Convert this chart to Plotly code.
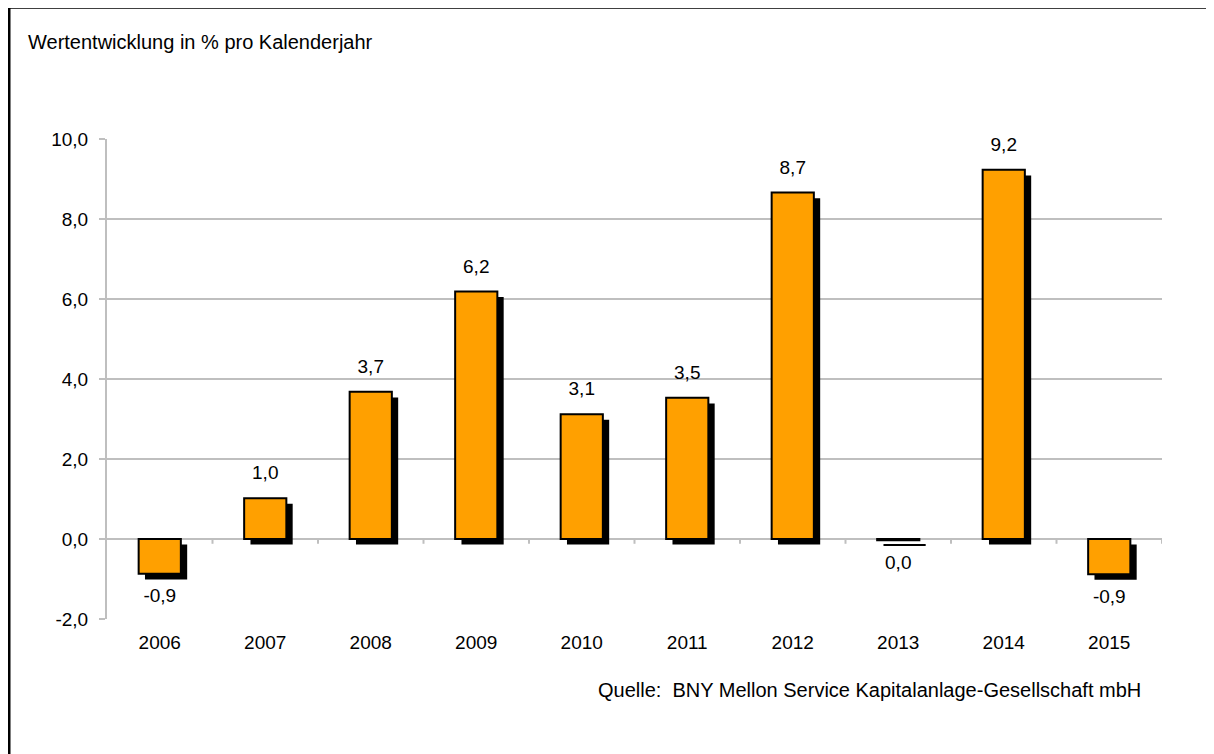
import plotly.graph_objects as go

years = [2006, 2007, 2008, 2009, 2010, 2011, 2012, 2013, 2014, 2015]
values = [-0.87, 1.02, 3.68, 6.19, 3.12, 3.53, 8.66, -0.03, 9.23, -0.88]
year_labels = [str(y) for y in years]
y_ticks = [-2, 0, 2, 4, 6, 8, 10]
y_tick_labels = ["-2,0", "0,0", "2,0", "4,0", "6,0", "8,0", "10,0"]

OFF = 8  # page body margin
W, H = 1214 - OFF, 754 - OFF
L, R, T, B = 107 - OFF, 52, 139 - OFF, 135
pw, ph = W - L - R, H - T - B
ymin, ymax = -2, 10
shadow_shift = 0.14  # data units, vertical shadow offset
bar_w = 0.4
font = "Arial, Liberation Sans, sans-serif"

fig = go.Figure()

# shadow bars
fig.add_trace(go.Bar(
    x=years, y=values, xaxis="x", yaxis="y2",
    width=bar_w, offset=-bar_w / 2 + 0.06,
    marker=dict(color="black", line=dict(width=0)),
    hoverinfo="skip", showlegend=False,
))
# main bars
fig.add_trace(go.Bar(
    x=years, y=values, xaxis="x", yaxis="y3",
    width=bar_w,
    marker=dict(color="#FFA000", line=dict(color="black", width=2)),
    hoverinfo="skip", showlegend=False,
))
# value labels
fig.add_trace(go.Scatter(
    x=years, y=values, xaxis="x", yaxis="y3",
    mode="markers+text",
    marker=dict(size=21, opacity=0),
    texttemplate="%{y:.1f}",
    textposition=["top center" if v >= 0 else "bottom center" for v in values],
    textfont=dict(family=font, size=19, color="black"),
    cliponaxis=False, showlegend=False, hoverinfo="skip",
))
# tick marks on the zero line at category boundaries
boundaries = [y + 0.5 for y in years]
fig.add_trace(go.Scatter(
    x=boundaries, y=[0] * len(boundaries), xaxis="x", yaxis="y",
    mode="markers", marker=dict(size=1, opacity=0),
    error_y=dict(type="data", symmetric=False, array=[0] * len(boundaries),
                 arrayminus=[0.12] * len(boundaries), width=0,
                 color="#BFBFBF", thickness=2),
    hoverinfo="skip", showlegend=False, cliponaxis=False,
))

fig.update_layout(
    width=W, height=H,
    margin=dict(l=L, r=R, t=T, b=B),
    paper_bgcolor="white", plot_bgcolor="white",
    separators=",.",
    font=dict(family=font, size=19, color="black"),
    xaxis=dict(
        range=[years[0] - 0.5, years[-1] + 0.5],
        tickvals=years, ticktext=year_labels,
        showgrid=False, zeroline=False, showline=False,
        ticks="", tickfont=dict(size=19), anchor="y",
        ticklabelstandoff=10,
    ),
    yaxis=dict(
        range=[ymin, ymax], tickvals=y_ticks, ticktext=y_tick_labels,
        showgrid=True, gridcolor="#BFBFBF", gridwidth=2,
        zeroline=True, zerolinecolor="#BFBFBF", zerolinewidth=2,
        showline=True, linecolor="#BFBFBF", linewidth=2,
        ticks="outside", ticklen=6, tickcolor="#BFBFBF", tickwidth=2,
        tickfont=dict(size=19), ticklabelstandoff=7,
    ),
    yaxis2=dict(overlaying="y", range=[ymin + shadow_shift, ymax + shadow_shift],
                showgrid=False, zeroline=False, showticklabels=False,
                showline=False, ticks=""),
    yaxis3=dict(overlaying="y", range=[ymin, ymax],
                showgrid=False, zeroline=False, showticklabels=False,
                showline=False, ticks=""),
    shapes=[
        dict(type="line", xref="paper", yref="paper",
             x0=(0 - L) / pw, x1=(W + 5 - L) / pw,
             y0=1 + (T - 0) / ph, y1=1 + (T - 0) / ph,
             line=dict(color="#404040", width=2)),
        dict(type="line", xref="paper", yref="paper",
             x0=(1 - L) / pw, x1=(1 - L) / pw,
             y0=1 + (T - 0) / ph, y1=-(B + 5) / ph,
             line=dict(color="black", width=3)),
    ],
    annotations=[
        dict(text="Wertentwicklung in % pro Kalenderjahr",
             xref="paper", yref="paper",
             x=(26 - OFF - L) / pw, y=1 + (T - (42 - OFF)) / ph,
             xanchor="left", yanchor="middle", showarrow=False,
             font=dict(size=20)),
        dict(text="Quelle:  BNY Mellon Service Kapitalanlage-Gesellschaft mbH",
             xref="paper", yref="paper",
             x=(1143 - OFF - L) / pw, y=-((690 - OFF) - (T + ph)) / ph,
             xanchor="right", yanchor="middle", showarrow=False,
             font=dict(size=20)),
    ],
)

fig.write_html("out.html")
